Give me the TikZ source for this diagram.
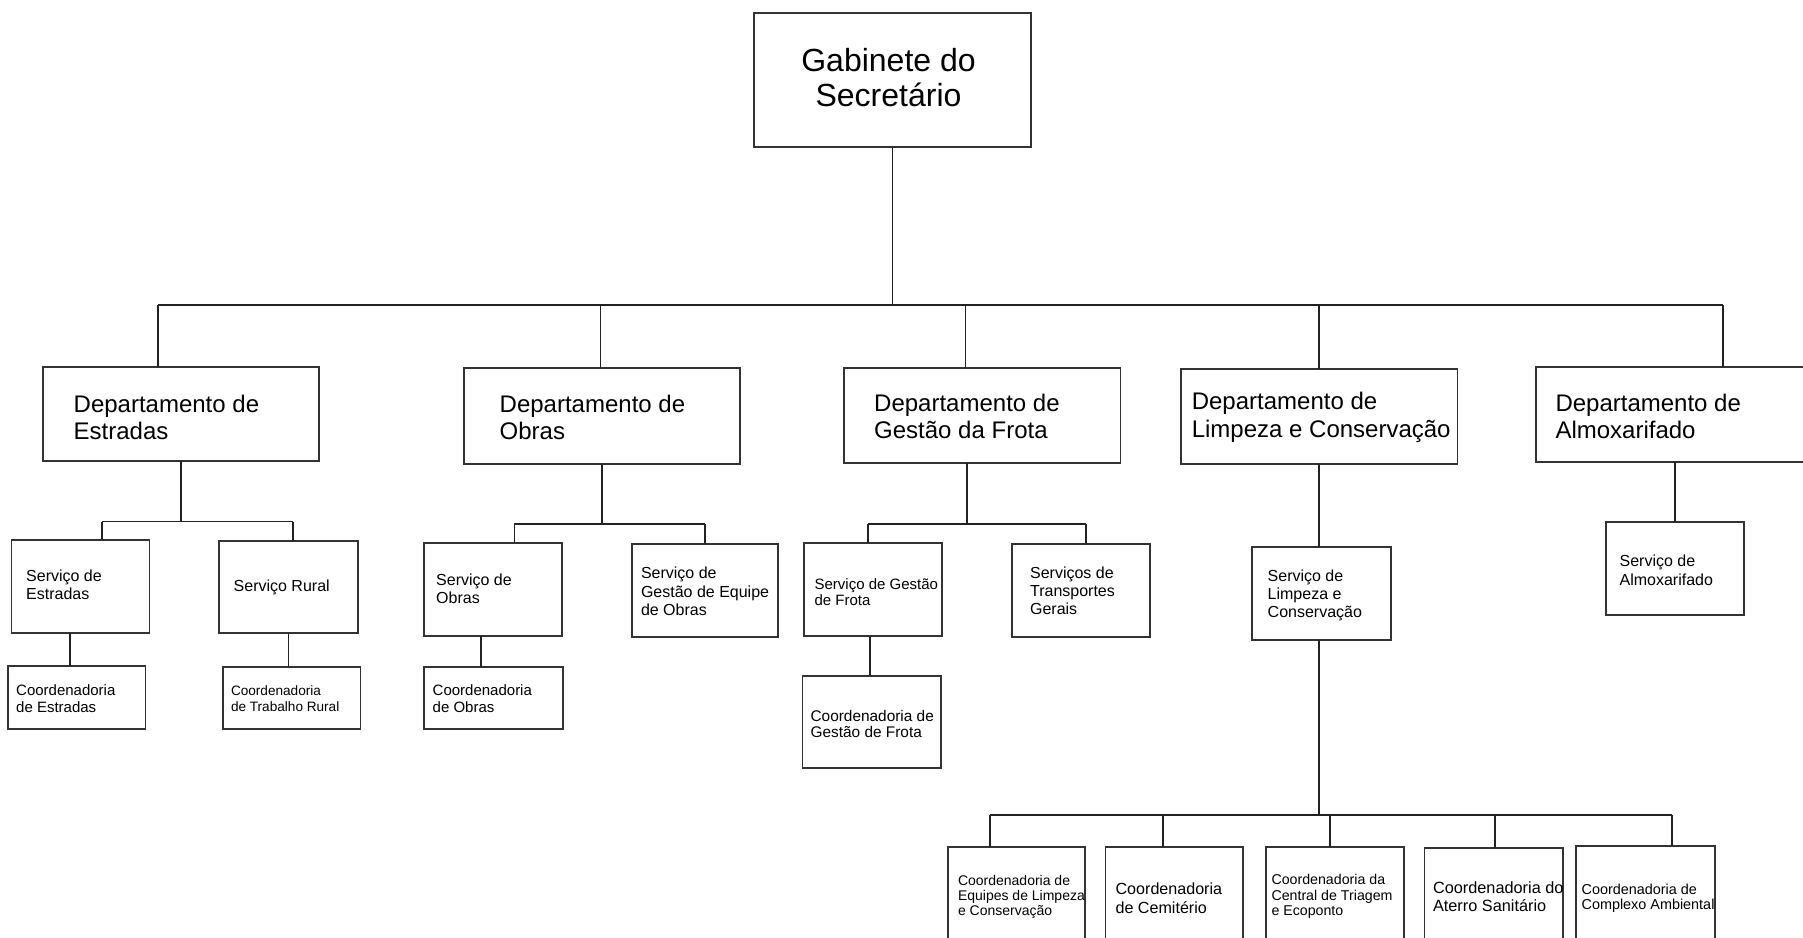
\documentclass[tikz,border=0pt]{standalone}
\usepackage{fontspec}
\setmainfont{Liberation Sans}
\definecolor{boxc}{HTML}{333333}
\definecolor{linec}{HTML}{222222}
\newcommand{\fsz}[2]{\fontsize{#1}{#2}\selectfont}
\newcommand{\obox}[5]{\node[orgbox, minimum width={#4-#2}, minimum height={#5-#3}] (#1) at (#2,#3) {};}
\newcommand{\otext}[5]{\node[orgtxt, font=#4] (#1) at (#2,#3) {#5};}
\tikzset{
  orgbox/.style={draw=boxc, line width=1.8pt, rectangle, inner sep=0pt, outer sep=0pt, anchor=north west},
  orgtxt/.style={inner sep=0pt, anchor=west, align=left, text=black},
  conn/.style={draw=linec, line width=1.8pt},
}
\begin{document}
\begin{tikzpicture}[x=1pt,y=-1pt]
\path[use as bounding box, fill=white] (0,0) rectangle (1803,937);
\clip (0,0) rectangle (1803,937);

% top
\obox{top}{754}{13}{1031}{147}
\node[orgtxt, anchor=center, align=center, font=\fsz{32}{35.5}] (topt) at (888.5,77.5) {Gabinete do\\Secretário};

% departments
\obox{d1}{43}{367}{319}{461}
\otext{d1t}{73.5}{417.5}{\fsz{24}{27.6}}{Departamento de\\Estradas}
\obox{d2}{463.7}{368}{739.8}{463.7}
\otext{d2t}{499.5}{417.5}{\fsz{24}{27.6}}{Departamento de\\Obras}
\obox{d3}{844.3}{368}{1120.4}{462.7}
\otext{d3t}{874}{416.5}{\fsz{24}{27.6}}{Departamento de\\Gestão da Frota}
\obox{d4}{1181.2}{369.3}{1457.4}{464.3}
\otext{d4t}{1191.6}{417.5}{\fsz{24}{27.6}}{Departamento de\\Limpeza e Conservação}
\obox{d5}{1536}{367.3}{1830}{462.3}
\otext{d5t}{1555.3}{416.5}{\fsz{24}{27.6}}{Departamento de\\Almoxarifado}

% services
\obox{s1}{11.5}{540}{149.5}{633}
\otext{s1t}{26}{585}{\fsz{16}{17.8}}{Serviço de\\Estradas}
\obox{s2}{219}{540.7}{358}{633}
\otext{s2t}{233.5}{587.5}{\fsz{16}{17.8}}{Serviço Rural}
\obox{s3}{424}{543.3}{562}{636}
\otext{s3t}{436}{589}{\fsz{16}{18}}{Serviço de\\Obras}
\obox{s4}{631.8}{544.3}{778}{636.7}
\otext{s4t}{640.8}{591.5}{\fsz{16}{18.3}}{Serviço de\\Gestão de Equipe\\de Obras}
\obox{s5}{804}{542.7}{942.3}{635.7}
\otext{s5t}{814.4}{592.2}{\fsz{15}{16.7}}{Serviço de Gestão\\de Frota}
\obox{s6}{1012}{544.3}{1150}{636.7}
\otext{s6t}{1029.9}{591}{\fsz{16}{17.8}}{Serviços de\\Transportes\\Gerais}
\obox{s7}{1252}{547.3}{1390.7}{640}
\otext{s7t}{1267.5}{595.5}{\fsz{16}{18}}{Serviço de\\Limpeza e\\Conservação}
\obox{s8}{1605.6}{522.3}{1744.3}{615}
\otext{s8t}{1619.4}{570.5}{\fsz{16}{19}}{Serviço de\\Almoxarifado}

% coordenadorias (level 3)
\obox{c1}{7.7}{666}{145.4}{729}
\otext{c1t}{16}{698.5}{\fsz{15}{17.7}}{Coordenadoria\\de Estradas}
\obox{c2}{222.7}{667}{360.5}{729}
\otext{c2t}{230.8}{699}{\fsz{13.6}{16}}{Coordenadoria\\de Trabalho Rural}
\obox{c3}{424}{667.3}{562.6}{729}
\otext{c3t}{432.5}{698.5}{\fsz{15}{17}}{Coordenadoria\\de Obras}
\obox{c4}{802.5}{675.7}{940.8}{768.3}
\otext{c4t}{810.4}{724}{\fsz{15.4}{16.7}}{Coordenadoria de\\Gestão de Frota}

% bottom row
\obox{b1}{947.8}{846.7}{1085.3}{960}
\otext{b1t}{957.8}{897}{\fsz{14}{15.2}}{Coordenadoria de\\Equipes de Limpeza\\e Conservação}
\obox{b2}{1105.4}{847}{1242.9}{960}
\otext{b2t}{1115.4}{898.5}{\fsz{16.1}{18.7}}{Coordenadoria\\de Cemitério}
\obox{b3}{1265.7}{846.7}{1403.8}{960}
\otext{b3t}{1271.3}{896.5}{\fsz{14.2}{15.2}}{Coordenadoria da\\Central de Triagem\\e Ecoponto}
\obox{b4}{1424.4}{848}{1563}{960}
\otext{b4t}{1432.8}{897}{\fsz{16.3}{18.3}}{Coordenadoria do\\Aterro Sanitário}
\obox{b5}{1575.9}{846}{1715}{960}
\otext{b5t}{1581.4}{898}{\fsz{14.4}{14.7}}{Coordenadoria de\\Complexo Ambiental}

% top level connectors
\coordinate (jL) at (158,305);
\coordinate (jR) at (1723,305);
\coordinate (j2) at (600.5,305);
\coordinate (j3) at (965.5,305);
\coordinate (j4) at (1319,305);
\draw[conn] (top.south) -- (top.south |- jL);
\draw[conn] (jL) -- (jR);
\draw[conn] (jL) -- (jL |- d1.north);
\draw[conn] (j2) -- (j2 |- d2.north);
\draw[conn] (j3) -- (j3 |- d3.north);
\draw[conn] (j4) -- (j4 |- d4.north);
\draw[conn] (jR) -- (jR |- d5.north);

% Estradas
\coordinate (e1L) at (102,521.5);
\coordinate (e1R) at (293,521.5);
\draw[conn] (d1.south) -- (d1.south |- e1L);
\draw[conn] (e1L) -- (e1R);
\draw[conn] (e1L) -- (e1L |- s1.north);
\draw[conn] (e1R) -- (e1R |- s2.north);
\draw[conn] ([xshift=-10.5pt]s1.south) -- ([xshift=-10.5pt]s1.south |- c1.north);
\draw[conn] (s2.south) -- (s2.south |- c2.north);

% Obras
\coordinate (e2L) at (514.4,524.3);
\coordinate (e2R) at (705,524.3);
\draw[conn] (d2.south) -- (d2.south |- e2L);
\draw[conn] (e2L) -- (e2R);
\draw[conn] (e2L) -- (e2L |- s3.north);
\draw[conn] (e2R) -- (e2R |- s4.north);
\draw[conn] ([xshift=-12.4pt]s3.south) -- ([xshift=-12.4pt]s3.south |- c3.north);

% Frota
\coordinate (e3L) at (867.7,524.3);
\coordinate (e3R) at (1085.6,524.3);
\draw[conn] ([xshift=-15.7pt]d3.south) -- ([xshift=-15.7pt]d3.south |- e3L);
\draw[conn] (e3L) -- (e3R);
\draw[conn] (e3L) -- (e3L |- s5.north);
\draw[conn] (e3R) -- (e3R |- s6.north);
\draw[conn] ([xshift=-3pt]s5.south) -- ([xshift=-3pt]s5.south |- c4.north);

% Limpeza
\coordinate (fL) at (989.6,815);
\coordinate (fR) at (1671.6,815);
\coordinate (f2) at (1163.3,815);
\coordinate (f3) at (1329.8,815);
\coordinate (f4) at (1495.1,815);
\draw[conn] (d4.south) -- (d4.south |- s7.north);
\draw[conn] (d4.south |- s7.south) -- (d4.south |- fL);
\draw[conn] (fL) -- (fR);
\draw[conn] (fL) -- (fL |- b1.north);
\draw[conn] (f2) -- (f2 |- b2.north);
\draw[conn] (f3) -- (f3 |- b3.north);
\draw[conn] (f4) -- (f4 |- b4.north);
\draw[conn] (fR) -- (fR |- b5.north);

% Almoxarifado
\draw[conn] (s8.north |- d5.south) -- (s8.north);
\end{tikzpicture}
\end{document}
